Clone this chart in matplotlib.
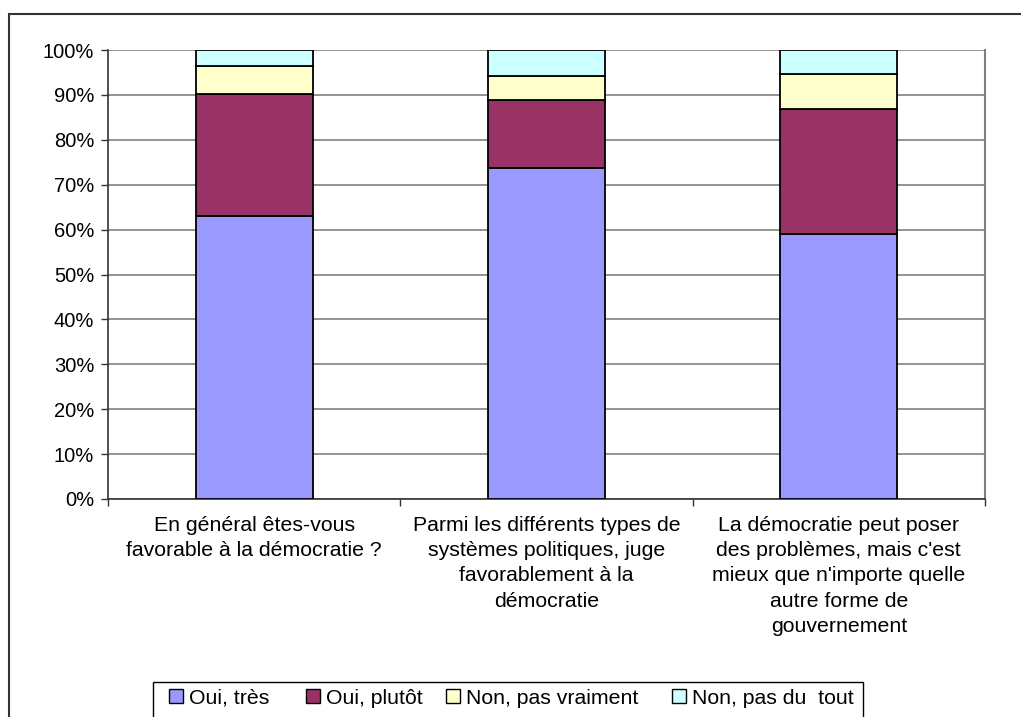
import matplotlib.pyplot as plt
import matplotlib.patches as mpatches
import numpy as np

plt.rcParams['font.family'] = ['Liberation Sans', 'DejaVu Sans']

categories = [
    "En général êtes-vous\nfavorable à la démocratie ?",
    "Parmi les différents types de\nsystèmes politiques, juge\nfavorablement à la\ndémocratie",
    "La démocratie peut poser\ndes problèmes, mais c'est\nmieux que n'importe quelle\nautre forme de\ngouvernement",
]
series_names = ["Oui, très", "Oui, plutôt", "Non, pas vraiment", "Non, pas du  tout"]
oui_tres = [63.1, 73.8, 59.1]
oui_plutot = [27.2, 15.1, 27.7]
non_pas_vraiment = [6.2, 5.4, 7.9]
non_pas_du_tout = [3.5, 5.7, 5.3]
colors = ['#9999FF', '#993366', '#FFFFCC', '#CCFFFF']

W, H = 1021, 717
fig = plt.figure(figsize=(W / 100, H / 100), dpi=100)
ax = fig.add_axes([108 / W, 1 - 499 / H, (985 - 108) / W, (499 - 50) / H])

x = np.arange(len(categories))
bottom = np.zeros(len(categories))
bars = []
for vals, name, col in zip([oui_tres, oui_plutot, non_pas_vraiment, non_pas_du_tout], series_names, colors):
    b = ax.bar(x, vals, 0.4, bottom=bottom, color=col, edgecolor='black', linewidth=1.3, label=name, zorder=3)
    bars.append(b)
    bottom += np.array(vals)

ax.set_xlim(-0.5, 2.5)
ax.set_ylim(0, 100)
ax.set_yticks(np.arange(0, 101, 10))
ax.set_yticklabels([f"{v}%" for v in range(0, 101, 10)])
ax.yaxis.grid(True, color='#808080', linewidth=1.2, zorder=0)

# ticks at the category boundaries, labels centred under the bars
ax.set_xticks([-0.5, 0.5, 1.5, 2.5])
ax.set_xticklabels([])
ax.set_xticks(x, minor=True)
ax.set_xticklabels(categories, minor=True, fontsize=15.3, linespacing=1.42)
ax.tick_params(axis='x', which='minor', length=0, pad=12)
ax.tick_params(axis='x', which='major', length=5, width=1, color='#333333', direction='out')
ax.tick_params(axis='y', length=5, width=1, color='#333333', direction='out', labelsize=14.5, pad=5)

for side in ['left', 'bottom']:
    ax.spines[side].set_color('#333333')
    ax.spines[side].set_linewidth(1.2)
ax.spines['right'].set_color('#808080')
ax.spines['right'].set_linewidth(1.5)
ax.spines['top'].set_visible(False)

# one small legend per entry so the uneven spacing of the original can be kept
entry_x = [169, 306, 446, 672]
for b, name, ex in zip(bars, series_names, entry_x):
    leg = fig.legend([b], [name], loc='center left', bbox_to_anchor=(ex / W, 1 - 698 / H),
                     fontsize=15.3, frameon=False,
                     handlelength=0.66, handleheight=0.66, handletextpad=0.28,
                     borderpad=0, borderaxespad=0)
    for h in leg.legend_handles:
        h.set_linewidth(1.0)
        h.set_edgecolor('black')
fig.patches.append(mpatches.Rectangle((153 / W, -0.1), (863 - 153) / W, 0.1 + 1 - 682 / H,
                                      transform=fig.transFigure, fill=False,
                                      edgecolor='black', linewidth=1.0))

# outer chart border
fig.patches.append(mpatches.Rectangle((9 / W, -0.1), 1.2, 1.1 - 14 / H, transform=fig.transFigure,
                                      fill=False, edgecolor='#333333', linewidth=1.5))

fig.savefig('out.png', dpi=100)
